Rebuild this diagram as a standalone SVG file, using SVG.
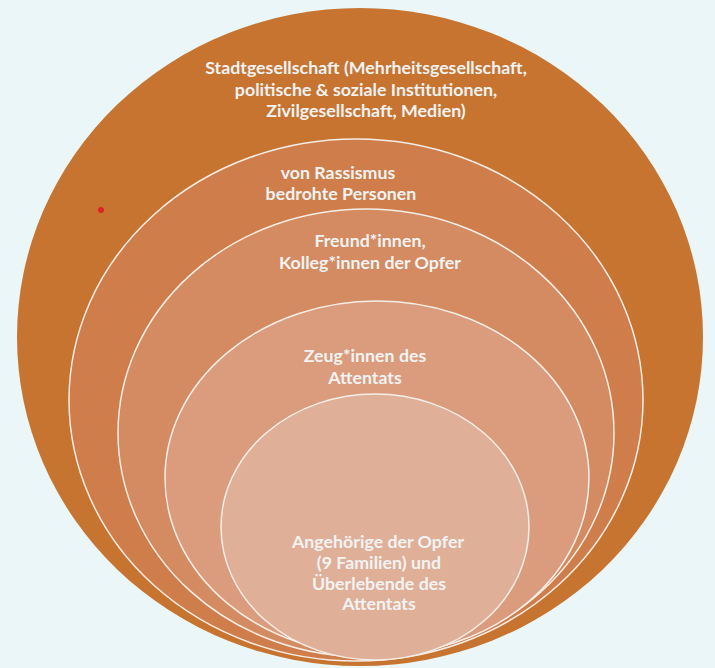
<svg xmlns="http://www.w3.org/2000/svg" width="715" height="668" viewBox="0 0 715 668">
<style>
.ring{stroke:#F4EEE8;stroke-width:1.5}
.t{font-family:Lato,"Liberation Sans",sans-serif;font-weight:bold;font-size:17.8px;fill:#F1F3F3;text-anchor:middle}
</style>
<rect width="715" height="668" fill="#EAF6F8"/>
<g id="stadtgesellschaft">
<ellipse cx="360" cy="337" rx="343" ry="329" fill="#C87431"/>
<text class="t" x="366" y="74">Stadtgesellschaft (Mehrheitsgesellschaft,</text>
<text class="t" x="366" y="96">politische &amp; soziale Institutionen,</text>
<text class="t" x="366" y="117">Zivilgesellschaft, Medien)</text>
</g>
<g id="rassismus">
<ellipse class="ring" cx="356" cy="400" rx="287" ry="261" fill="#CF7E4B"/>
<text class="t" x="338" y="179">von Rassismus</text>
<text class="t" x="341" y="200">bedrohte Personen</text>
</g>
<g id="freunde">
<ellipse class="ring" cx="366" cy="433" rx="248" ry="224" fill="#D48B61"/>
<text class="t" x="370" y="247">Freund*innen,</text>
<text class="t" x="370" y="269">Kolleg*innen der Opfer</text>
</g>
<g id="zeugen">
<ellipse class="ring" cx="377" cy="478" rx="212" ry="177" fill="#DA9C7C"/>
<text class="t" x="365" y="362">Zeug*innen des</text>
<text class="t" x="365" y="384">Attentats</text>
</g>
<g id="angehoerige">
<ellipse class="ring" cx="375" cy="527" rx="154" ry="133" fill="#E0AF98"/>
<text class="t" x="378" y="548">Angehörige der Opfer</text>
<text class="t" x="379" y="569">(9 Familien) und</text>
<text class="t" x="379" y="590">Überlebende des</text>
<text class="t" x="379" y="610">Attentats</text>
</g>
<circle cx="101" cy="210" r="3" fill="#E02222"/>
<g id="connectors"/>
</svg>
